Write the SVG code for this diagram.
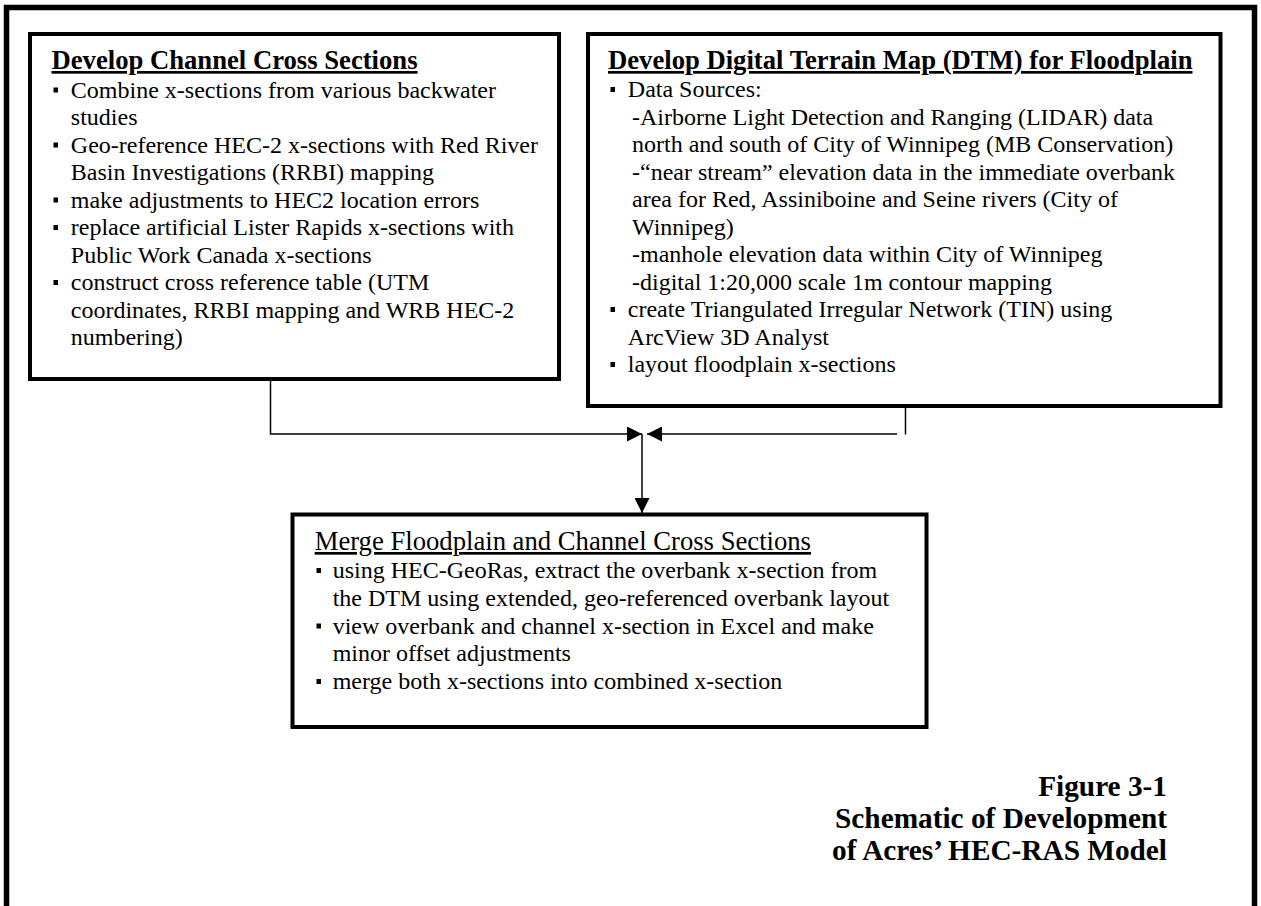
<svg xmlns="http://www.w3.org/2000/svg" width="1261" height="906" viewBox="0 0 1261 906">
  <style>
    .frame { fill: none; stroke: #000; stroke-width: 5.5; }
    .box { fill: #fff; stroke: #000; stroke-width: 4; }
    .conn { fill: none; stroke: #000; stroke-width: 1.5; }
    text { font-family: "Liberation Serif", "Times New Roman", serif; fill: #000; }
    .body { font-size: 24px; }
    .head { font-size: 26.67px; font-weight: bold; text-decoration: underline; }
    .head2 { font-size: 26.67px; text-decoration: underline; }
    .cap { font-size: 29.3px; font-weight: bold; text-anchor: end; }
    .bul { fill: #000; }
  </style>
  <defs>
    <marker id="ah" viewBox="0 0 15 15" refX="15" refY="7.5" markerWidth="15" markerHeight="15" markerUnits="userSpaceOnUse" orient="auto">
      <path d="M0,0 L15,7.5 L0,15 Z" fill="#000"/>
    </marker>
  </defs>
  <rect x="0" y="0" width="1261" height="906" fill="#fff"/>
  <rect class="frame" x="6.5" y="7.5" width="1248" height="930"/>

  <g id="connectors">
    <path class="conn" d="M270.5,379 V434 H642" marker-end="url(#ah)"/>
    <path class="conn" d="M905.5,406 V434.5"/>
    <path class="conn" d="M897,434 H647" marker-end="url(#ah)"/>
    <path class="conn" d="M642,434 V513" marker-end="url(#ah)"/>
  </g>

  <g id="node-channel">
    <rect class="box" x="30" y="34" width="529" height="345"/>
    <text class="head" x="51.5" y="69">Develop Channel Cross Sections</text>
    <rect class="bul" x="53.5" y="87.5" width="4.5" height="5"/>
    <rect class="bul" x="53.5" y="142.5" width="4.5" height="5"/>
    <rect class="bul" x="53.5" y="197.5" width="4.5" height="5"/>
    <rect class="bul" x="53.5" y="225" width="4.5" height="5"/>
    <rect class="bul" x="53.5" y="280" width="4.5" height="5"/>
    <text class="body" x="70.8" y="97.5">Combine x-sections from various backwater</text>
    <text class="body" x="70.8" y="125">studies</text>
    <text class="body" x="70.8" y="152.5">Geo-reference HEC-2 x-sections with Red River</text>
    <text class="body" x="70.8" y="180">Basin Investigations (RRBI) mapping</text>
    <text class="body" x="70.8" y="207.5">make adjustments to HEC2 location errors</text>
    <text class="body" x="70.8" y="235">replace artificial Lister Rapids x-sections with</text>
    <text class="body" x="70.8" y="262.5">Public Work Canada x-sections</text>
    <text class="body" x="70.8" y="290">construct cross reference table (UTM</text>
    <text class="body" x="70.8" y="317.5">coordinates, RRBI mapping and WRB HEC-2</text>
    <text class="body" x="70.8" y="345">numbering)</text>
  </g>

  <g id="node-dtm">
    <rect class="box" x="588" y="34" width="632.5" height="372"/>
    <text class="head" x="608" y="69">Develop Digital Terrain Map (DTM) for Floodplain</text>
    <rect class="bul" x="610.5" y="87" width="4.5" height="5"/>
    <rect class="bul" x="610.5" y="307" width="4.5" height="5"/>
    <rect class="bul" x="610.5" y="362" width="4.5" height="5"/>
    <text class="body" x="627.8" y="97">Data Sources:</text>
    <text class="body" x="632" y="124.5">-Airborne Light Detection and Ranging (LIDAR) data</text>
    <text class="body" x="632" y="152">north and south of City of Winnipeg (MB Conservation)</text>
    <text class="body" x="632" y="179.5">-“near stream” elevation data in the immediate overbank</text>
    <text class="body" x="632" y="207">area for Red, Assiniboine and Seine rivers (City of</text>
    <text class="body" x="632" y="234.5">Winnipeg)</text>
    <text class="body" x="632" y="262">-manhole elevation data within City of Winnipeg</text>
    <text class="body" x="632" y="289.5">-digital 1:20,000 scale 1m contour mapping</text>
    <text class="body" x="627.8" y="317">create Triangulated Irregular Network (TIN) using</text>
    <text class="body" x="627.8" y="344.5">ArcView 3D Analyst</text>
    <text class="body" x="627.8" y="372">layout floodplain x-sections</text>
  </g>

  <g id="node-merge">
    <rect class="box" x="292.5" y="514.5" width="634" height="212.5"/>
    <text class="head2" x="314.7" y="550">Merge Floodplain and Channel Cross Sections</text>
    <rect class="bul" x="316.5" y="568" width="4.5" height="5"/>
    <rect class="bul" x="316.5" y="623.5" width="4.5" height="5"/>
    <rect class="bul" x="316.5" y="679" width="4.5" height="5"/>
    <text class="body" x="332.7" y="578">using HEC-GeoRas, extract the overbank x-section from</text>
    <text class="body" x="332.7" y="605.75">the DTM using extended, geo-referenced overbank layout</text>
    <text class="body" x="332.7" y="633.5">view overbank and channel x-section in Excel and make</text>
    <text class="body" x="332.7" y="661.25">minor offset adjustments</text>
    <text class="body" x="332.7" y="689">merge both x-sections into combined x-section</text>
  </g>

  <g id="caption">
    <text class="cap" x="1167" y="796">Figure 3-1</text>
    <text class="cap" x="1167" y="828">Schematic of Development</text>
    <text class="cap" x="1167" y="860">of Acres’ HEC-RAS Model</text>
  </g>
</svg>
